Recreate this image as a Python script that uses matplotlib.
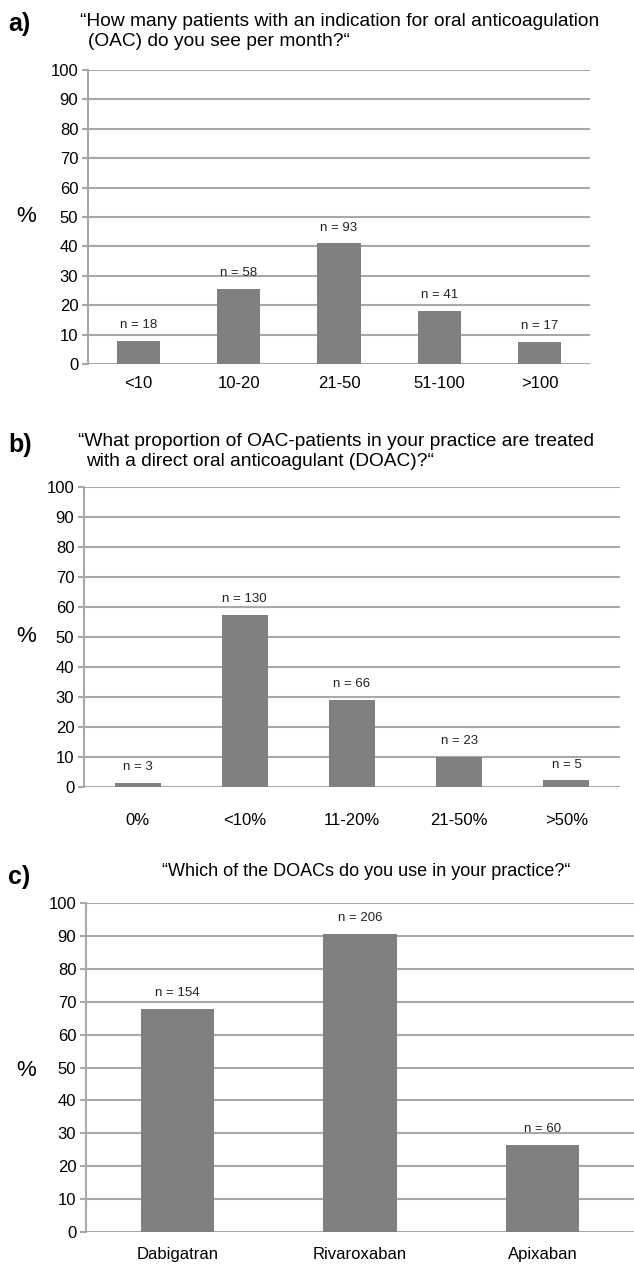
import matplotlib
matplotlib.use('Agg')
import matplotlib.pyplot as plt

plt.rcParams['font.family'] = ['Liberation Sans', 'DejaVu Sans']

# data
a_cats = ['<10', '10-20', '21-50', '51-100', '>100']
a_n = [18, 58, 93, 41, 17]
a_pct = [7.9, 25.6, 41.0, 18.1, 7.5]

b_cats = ['0%', '<10%', '11-20%', '21-50%', '>50%']
b_n = [3, 130, 66, 23, 5]
b_pct = [1.3, 57.3, 29.1, 10.1, 2.2]

c_cats = ['Dabigatran', 'Rivaroxaban', 'Apixaban']
c_n = [154, 206, 60]
c_pct = [67.8, 90.7, 26.4]

W, H = 634, 1265
fig = plt.figure(figsize=(W / 100, H / 100), dpi=100)

GRID = '#a8a8a8'
BAR = '#808080'


def box(l, t, r, b):
    return [l / W, 1 - b / H, (r - l) / W, (b - t) / H]


def panel(rect, cats, pct, n, width, xpad):
    ax = fig.add_axes(box(*rect))
    x = range(len(cats))
    ax.bar(x, pct, width=width, color=BAR, zorder=3)
    for xi, p, k in zip(x, pct, n):
        ax.annotate('n = %d' % k, (xi, p), xytext=(0, 7), textcoords='offset points',
                    ha='center', va='bottom', fontsize=9.5, color='#222222')
    ax.set_ylim(0, 100)
    ax.set_xlim(-0.5, len(cats) - 0.5)
    ax.set_yticks(range(0, 101, 10))
    ax.set_xticks(list(x))
    ax.set_xticklabels(cats)
    ax.grid(axis='y', color=GRID, linewidth=1.5, zorder=0)
    for s in ['top', 'right', 'bottom']:
        ax.spines[s].set_visible(False)
    ax.spines['left'].set_color(GRID)
    ax.spines['left'].set_linewidth(1.5)
    ax.tick_params(axis='y', length=4, width=1.5, color=GRID, labelsize=12, pad=3)
    ax.tick_params(axis='x', length=0, labelsize=12, pad=xpad)
    return ax


panel((88, 70, 590, 364), a_cats, a_pct, a_n, 0.43, 9)
panel((84, 487, 620, 787), b_cats, b_pct, b_n, 0.43, 19)
panel((86, 903, 634, 1232), c_cats, c_pct, c_n, 0.40, 11)

q = '\u201c'
TS = 13.8
# panel letters, titles and % labels
fig.text(8 / W, 1 - 24 / H, 'a)', fontsize=18, fontweight='bold', va='center')
fig.text(80 / W, 1 - 21 / H, q + 'How many patients with an indication for oral anticoagulation',
         fontsize=TS, va='center')
fig.text(88 / W, 1 - 41 / H, '(OAC) do you see per month?' + q, fontsize=TS, va='center')

fig.text(8 / W, 1 - 445 / H, 'b)', fontsize=18, fontweight='bold', va='center')
fig.text(78 / W, 1 - 441 / H, q + 'What proportion of OAC-patients in your practice are treated',
         fontsize=TS, va='center')
fig.text(86 / W, 1 - 461 / H, 'with a direct oral anticoagulant (DOAC)?' + q, fontsize=TS, va='center')

fig.text(8 / W, 1 - 877 / H, 'c)', fontsize=18, fontweight='bold', va='center')
fig.text(162 / W, 1 - 872 / H, q + 'Which of the DOACs do you use in your practice?' + q,
         fontsize=13, va='center')

for y in [217, 637, 1070]:
    fig.text(26 / W, 1 - y / H, '%', fontsize=16, ha='center', va='center')

plt.savefig('out.png', dpi=100)
